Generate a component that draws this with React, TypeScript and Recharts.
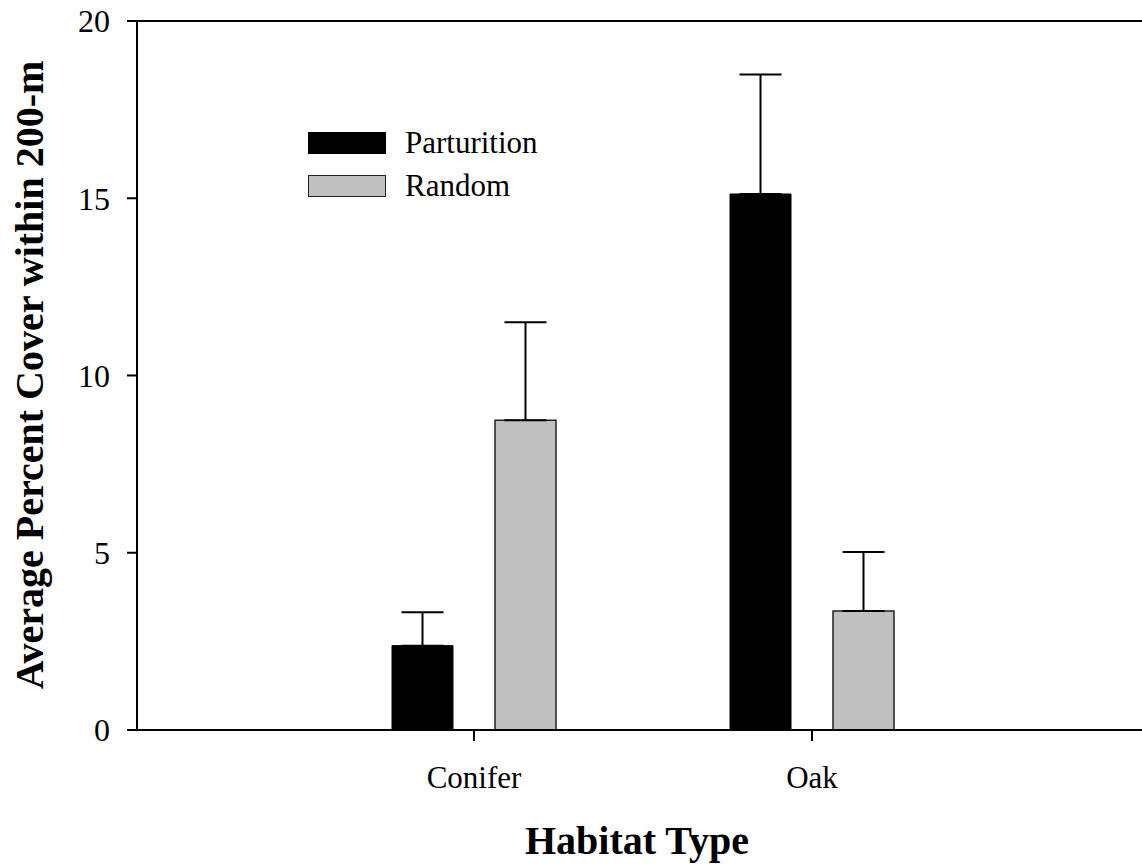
import React from 'react'
import { BarChart, Bar, XAxis, YAxis, ErrorBar, ReferenceLine } from 'recharts'

const HABITATS = ['Conifer', 'Oak']
const PARTURITION = [2.38, 15.12]
const PARTURITION_SE = [0.94, 3.37]
const RANDOM = [8.74, 3.36]
const RANDOM_SE = [2.76, 1.66]
const Y_TICKS = [0, 5, 10, 15, 20]

const FONT = '"Liberation Serif", "Times New Roman", serif'

const chartData = HABITATS.map((name, i) => ({
  name,
  parturition: PARTURITION[i],
  parturitionErr: [0, PARTURITION_SE[i]],
  random: RANDOM[i],
  randomErr: [0, RANDOM_SE[i]],
}))

// legend drawn on top of the plot, like the original
function LegendBox() {
  const row = (fill: string, stroke: string, label: string) => (
    <div style={{ display: 'flex', alignItems: 'center', height: 43 }}>
      <div
        style={{
          width: 78,
          height: 22,
          background: fill,
          border: `1.5px solid ${stroke}`,
          boxSizing: 'border-box',
        }}
      />
      <span style={{ marginLeft: 19, fontSize: 31, fontFamily: FONT, color: '#000', lineHeight: 1 }}>
        {label}
      </span>
    </div>
  )
  return (
    <div style={{ position: 'absolute', left: 308, top: 121 }}>
      {row('#000', '#000', 'Parturition')}
      {row('#c0c0c0', '#222', 'Random')}
    </div>
  )
}

export default function App() {
  return (
    <div style={{ position: 'absolute', left: 0, top: 0, width: 1142, height: 865, background: '#fff' }}>
      <BarChart
        width={1142}
        height={865}
        data={chartData}
        margin={{ top: 21, right: 0, bottom: 75, left: 57 }}
        barSize={61}
        barGap={42}
      >
        <XAxis
          dataKey="name"
          padding={{ left: 168, right: 161 }}
          height={60}
          axisLine={{ stroke: '#000', strokeWidth: 2 }}
          tickLine={{ stroke: '#000', strokeWidth: 2 }}
          tickSize={11}
          tickMargin={25}
          tick={{ fill: '#000', fontSize: 31, fontFamily: FONT }}
        />
        <YAxis
          domain={[0, 20]}
          ticks={Y_TICKS}
          width={80}
          axisLine={{ stroke: '#000', strokeWidth: 2 }}
          tickLine={{ stroke: '#000', strokeWidth: 2 }}
          tickSize={10}
          tickMargin={17}
          tick={{ fill: '#000', fontSize: 32, fontFamily: FONT }}
        />
        <ReferenceLine y={20} stroke="#000" strokeWidth={2} />
        <Bar dataKey="parturition" fill="#000" stroke="#000" isAnimationActive={false}>
          <ErrorBar dataKey="parturitionErr" direction="y" width={21} stroke="#000" strokeWidth={2} />
        </Bar>
        <Bar dataKey="random" fill="#c0c0c0" stroke="#222" strokeWidth={1.5} isAnimationActive={false}>
          <ErrorBar dataKey="randomErr" direction="y" width={21} stroke="#000" strokeWidth={2} />
        </Bar>
      </BarChart>
      <LegendBox />
      <div
        style={{
          position: 'absolute',
          left: 637,
          top: 840,
          transform: 'translate(-50%, -50%)',
          whiteSpace: 'nowrap',
          fontFamily: FONT,
          fontWeight: 'bold',
          fontSize: 40,
        }}
      >
        Habitat Type
      </div>
      <div
        style={{
          position: 'absolute',
          left: 29,
          top: 375,
          transform: 'translate(-50%, -50%) rotate(-90deg)',
          whiteSpace: 'nowrap',
          fontFamily: FONT,
          fontWeight: 'bold',
          fontSize: 40,
        }}
      >
        Average Percent Cover within 200-m
      </div>
    </div>
  )
}
